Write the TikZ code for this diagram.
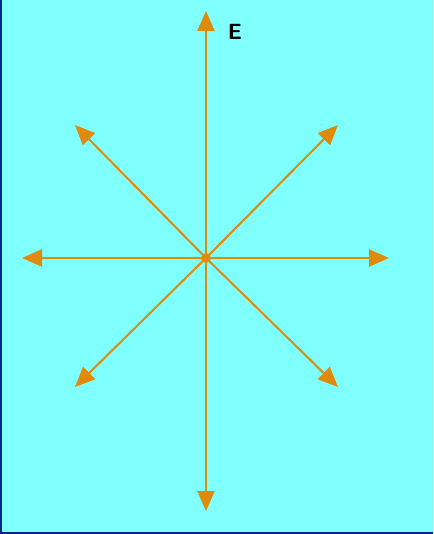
\documentclass[tikz,border=0pt]{standalone}
\usepackage{tikz}
\usetikzlibrary{arrows.meta}

\definecolor{skycyan}{RGB}{128,255,255}
\definecolor{framblue}{RGB}{0,40,130}
\definecolor{vecorange}{RGB}{224,138,10}

\tikzset{
  axisvec/.style={draw=vecorange, line width=2.5pt, -{Triangle[length=20pt,width=17pt]}},
  diagvec/.style={draw=vecorange, line width=2pt, -{Triangle[length=20pt,width=17pt]}},
}

\begin{document}
\begin{tikzpicture}[x=1pt, y=-1pt]
    \useasboundingbox (0,0) rectangle (433,534);
    \fill[skycyan] (0,0) rectangle (433,534);
    \fill[framblue] (0,0) rectangle (2,534);
    \fill[framblue] (0,532) rectangle (433,534);
    % centre and tips
    \coordinate (o) at (206,258);
    \coordinate (n) at (206,11);
    \coordinate (s) at (206,511);
    \coordinate (w) at (22,258);
    \coordinate (e) at (389,258);
    \coordinate (nw) at (75,125);
    \coordinate (ne) at (338,125);
    \coordinate (sw) at (75,387);
    \coordinate (se) at (338,387);
    \draw[axisvec] (o) -- (n);
    \draw[axisvec] (o) -- (s);
    \draw[axisvec] (o) -- (w);
    \draw[axisvec] (o) -- (e);
    \draw[diagvec] (o) -- (nw);
    \draw[diagvec] (o) -- (ne);
    \draw[diagvec] (o) -- (sw);
    \draw[diagvec] (o) -- (se);
    \fill[vecorange] (o) circle (5);
    \node[font=\sffamily\bfseries\fontsize{22}{22}\selectfont] (lab) at (235,32) {E};
\end{tikzpicture}
\end{document}
